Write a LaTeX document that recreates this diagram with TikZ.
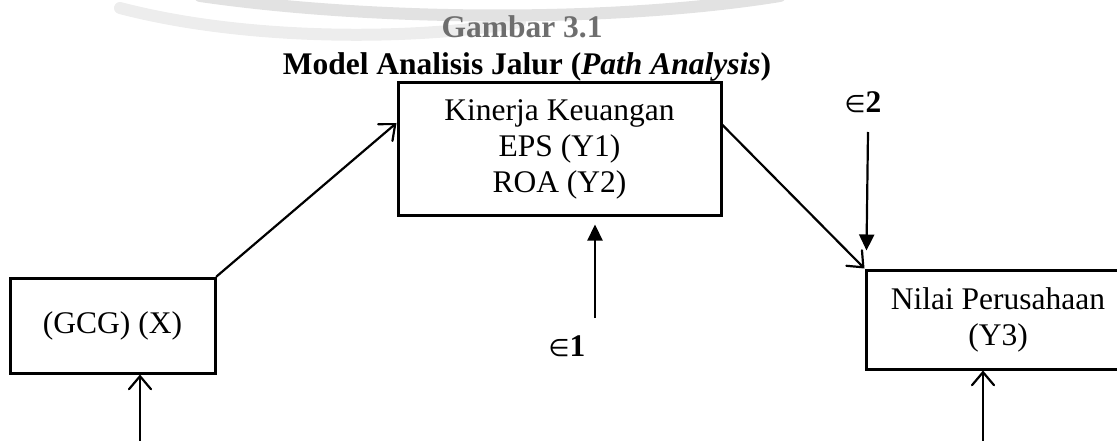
\documentclass[tikz,border=0pt]{standalone}
\usepackage{fontspec}
\setmainfont{Liberation Serif}
\newfontfamily\symfont{DejaVu Sans}
\usetikzlibrary{arrows.meta,calc}
\definecolor{wmA}{HTML}{EDEDED}
\definecolor{wmB}{HTML}{E2E2E2}
\definecolor{ttlgray}{HTML}{6E6E6E}
\newcommand{\epsym}{{\symfont\fontsize{24}{28}\selectfont ∈}}
\begin{document}
\begin{tikzpicture}[x=1pt,y=-1pt,
  every node/.style={font=\fontsize{31.5}{36}\selectfont},
  box/.style={draw, line width=3pt, rectangle, inner sep=0pt, align=center},
  conn/.style={line width=2.2pt, line cap=round, -{Straight Barb[length=13pt,width=22pt,line cap=round]}},
  errarrow/.style={line width=2.2pt, -{Triangle[length=16pt,width=15pt]}},
  ttl/.style={font=\fontsize{31.5}{36}\selectfont\bfseries, anchor=base},
  wmband/.style={line width=12pt, line cap=round},
]
\useasboundingbox (0,0) rectangle (1117,441);
% faint watermark arcs
\draw[wmband, wmA] (120,8) .. controls (250,42) and (420,40) .. (520,22);
\draw[wmband, wmB] (200,-4) .. controls (380,22) and (620,22) .. (780,-4);

% titles
\node[ttl, text=ttlgray] (gambar) at (522,38) {Gambar 3.1};
\node[ttl] (judul) at (527,75) {Model Analisis Jalur (\textit{Path Analysis})};

% boxes
\node[box, minimum width=323pt, minimum height=132pt] (kin) at (559.5,149)
  {Kinerja Keuangan\\EPS (Y1)\\ROA (Y2)};
\node[box, minimum width=205pt, minimum height=95pt] (gcg) at (112.5,325.5) {(GCG) (X)};
\node[box, minimum width=264pt, minimum height=99pt] (nilai) at (998,319.5)
  {Nilai Perusahaan\\(Y3)};

% error labels
\node[anchor=base] (e1) at (567,356) {\epsym\textbf{1}};
\node[anchor=base] (e2) at (863,113) {\epsym\textbf{2}};
\coordinate (e1s) at (595,318);
\coordinate (e2s) at (868,132);
\coordinate (gcgs) at (140,450);
\coordinate (nils) at (983,450);

% connectors
\draw[conn] (gcg.north east) -- ([yshift=26pt]kin.west);
\draw[conn] ([yshift=24pt]kin.east) -- (nilai.north west);
\draw[errarrow] (e1s) -- ([xshift=35.5pt,yshift=-8pt]kin.south);
\draw[errarrow] (e2s) -- ([xshift=2pt,yshift=18pt]nilai.north west);
\draw[conn] (gcgs) -- ([xshift=27.5pt]gcg.south);
\draw[conn] (nils) -- ([xshift=-15pt]nilai.south);
\end{tikzpicture}
\end{document}
